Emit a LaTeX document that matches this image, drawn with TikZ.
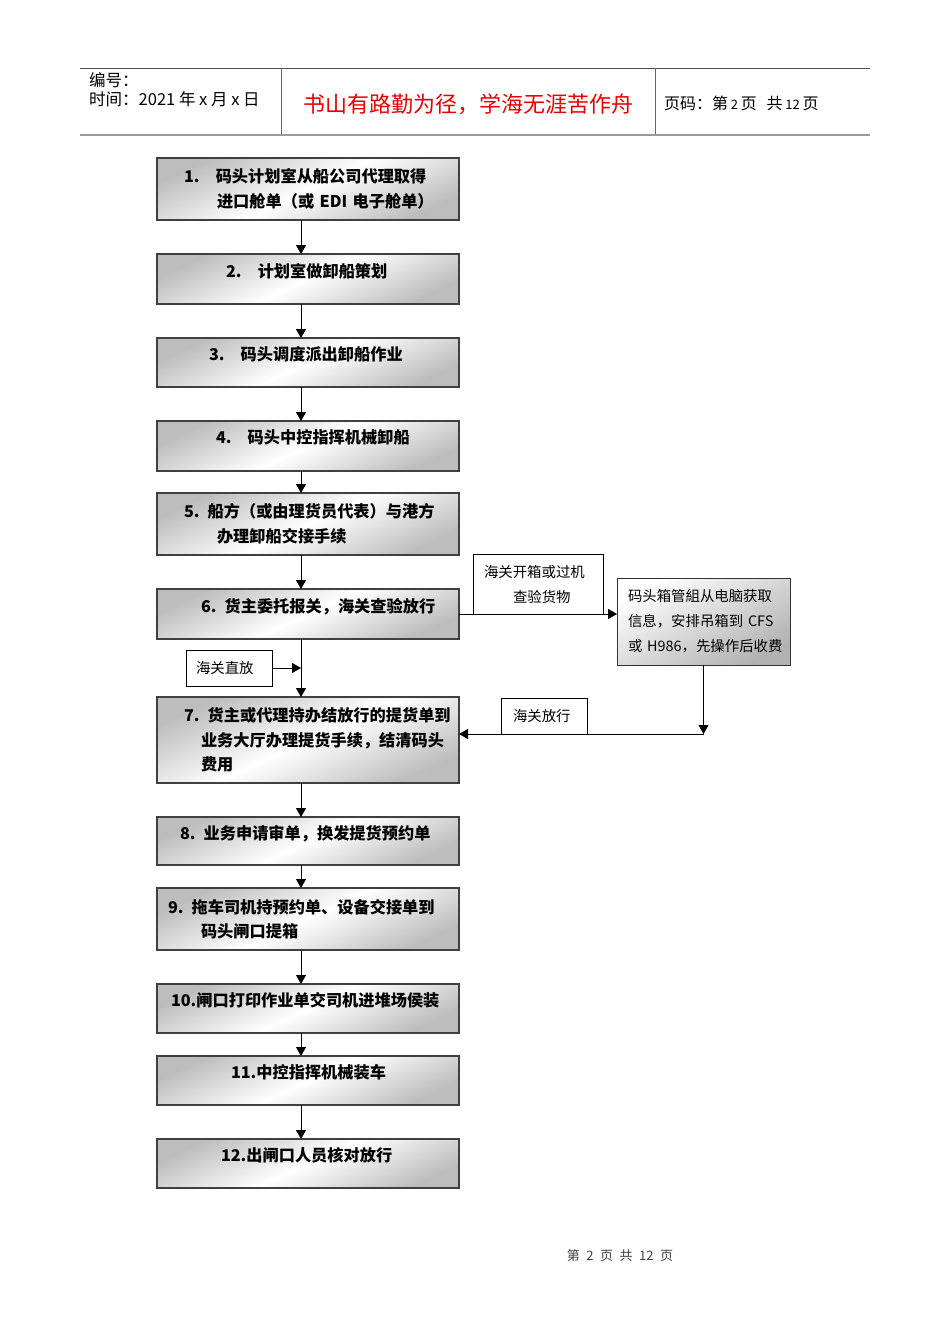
\documentclass[tikz,border=0pt]{standalone}
\usepackage{fontspec}
\newfontfamily\cjk{Noto Sans CJK SC}
\usetikzlibrary{arrows.meta,positioning,calc}
\definecolor{hdrgray}{HTML}{9A9A9A}
\definecolor{titlered}{HTML}{E60000}

\begin{document}
\begin{tikzpicture}[
  x=1pt,y=-1pt,
  node distance=34pt,
  >={Triangle[length=9pt,width=10pt]},
  stepbox/.style={draw=black!75,line width=1.4pt,outer sep=0pt,
    top color=black!26,bottom color=black!26,middle color=white,shading angle=25,
    minimum width=302pt,minimum height=#1,text width=302pt,inner xsep=0pt,
    align=left,font=\cjk\bfseries\fontsize{16.2}{24.5}\selectfont},
  oneline/.style={text depth=18pt},
  note/.style={draw=black,line width=0.8pt,fill=white,anchor=north west,outer sep=0pt,
    inner xsep=0pt,align=left,font=\cjk\fontsize{14.4}{25}\selectfont},
  flow/.style={->,line width=0.9pt,draw=black},
  hdr/.style={anchor=west,inner sep=0pt,font=\cjk\fontsize{16.5}{19}\selectfont}
]
  \path[fill=white] (0,0) rectangle (950,1344);

  % header
  \draw[black!70,line width=1pt] (80,68) -- (870,68);
  \draw[hdrgray,line width=2.5pt] (80,135) -- (870,135);
  \draw[black!60,line width=1pt] (281,68) -- (281,134);
  \draw[black!60,line width=1pt] (655,68) -- (655,134);
  \node[hdr] (hno) at (89,80) {编号：};
  \node[hdr] (htime) at (89,99) {时间：2021 年 x 月 x 日};
  \node[inner sep=0pt,text=titlered,font=\cjk\fontsize{22}{26}\selectfont] (motto) at (468,104)
    {书山有路勤为径，学海无涯苦作舟};
  \node[hdr,font=\cjk\fontsize{16}{19}\selectfont] (hpage) at (664,103)
    {页码：第\,{\fontsize{13}{16}\selectfont 2}\,页\hspace{10pt}共\,{\fontsize{13}{16}\selectfont 12}\,页};

  % main column
  \node[stepbox=62pt,anchor=north west] (b1) at (157,158)
    {\hspace*{27pt}1.\quad 码头计划室从船公司代理取得\\\hspace*{60pt}进口舱单（或 EDI 电子舱单）};
  \node[stepbox=50pt,oneline,below=of b1] (b2) {\hspace*{69pt}2.\quad 计划室做卸船策划};
  \node[stepbox=49pt,oneline,below=of b2] (b3) {\hspace*{52pt}3.\quad 码头调度派出卸船作业};
  \node[stepbox=50pt,oneline,below=of b3] (b4) {\hspace*{59pt}4.\quad 码头中控指挥机械卸船};
  \node[stepbox=62pt,below=22pt of b4] (b5)
    {\hspace*{27pt}5. 船方（或由理货员代表）与港方\\\hspace*{60pt}办理卸船交接手续};
  \node[stepbox=50pt,oneline,below=of b5] (b6) {\hspace*{44pt}6. 货主委托报关，海关查验放行};
  \node[stepbox=86pt,below=58pt of b6] (b7)
    {\hspace*{27pt}7. 货主或代理持办结放行的提货单到\\\hspace*{44pt}业务大厅办理提货手续，结清码头\\\hspace*{44pt}费用};
  \node[stepbox=48pt,oneline,below=of b7] (b8) {\hspace*{23pt}8. 业务申请审单，换发提货预约单};
  \node[stepbox=62pt,below=23pt of b8] (b9)
    {\hspace*{11pt}9. 拖车司机持预约单、设备交接单到\\\hspace*{44pt}码头闸口提箱};
  \node[stepbox=49pt,oneline,below=of b9] (b10) {\hspace*{14pt}10.闸口打印作业单交司机进堆场侯装};
  \node[stepbox=49pt,oneline,below=23pt of b10] (b11) {\hspace*{74pt}11.中控指挥机械装车};
  \node[stepbox=49pt,oneline,below=of b11] (b12) {\hspace*{64pt}12.出闸口人员核对放行};

  % side boxes
  \node[note,minimum width=130pt,minimum height=60pt,text width=130pt] (check) at (473,554)
    {\hspace*{11pt}海关开箱或过机\\\hspace*{40pt}查验货物};
  \node[note,draw=black!80,top color=white,bottom color=black!30,shading angle=30,
    minimum width=173pt,minimum height=87pt,text width=173pt] (xiang) at (617,578)
    {\hspace*{11pt}码头箱管組从电脑获取\\\hspace*{11pt}信息，安排吊箱到 CFS\\\hspace*{11pt}或 H986，先操作后收费};
  \node[note,minimum width=86pt,minimum height=36pt,text width=86pt] (zhifang) at (186,650)
    {\hspace*{10pt}海关直放};
  \node[note,minimum width=86pt,minimum height=36pt,text width=86pt] (fangxing) at (501,698)
    {\hspace*{12pt}海关放行};

  % connectors
  \coordinate (spine) at (301,0);
  \foreach \a/\b in {b1/b2,b2/b3,b3/b4,b4/b5,b5/b6,b6/b7,b7/b8,b8/b9,b9/b10,b10/b11,b11/b12}
    \draw[flow] (\a.south -| spine) -- (\b.north -| spine);
  \draw[flow] (zhifang.east) -- (zhifang.east -| spine);
  \draw[flow] (b6.east |- check.south) -- (xiang.west |- check.south);
  \draw[flow] (xiang.south) -- (xiang.south |- fangxing.south);
  \draw[flow] (xiang.south |- fangxing.south) -- (b7.east |- fangxing.south);

  % footer
  \node[inner sep=0pt,text=black!75,font=\cjk\fontsize{13}{16}\selectfont] (foot) at (620,1256)
    {第\enspace 2\enspace 页\enspace 共\enspace 12\enspace 页};
\end{tikzpicture}
\end{document}
